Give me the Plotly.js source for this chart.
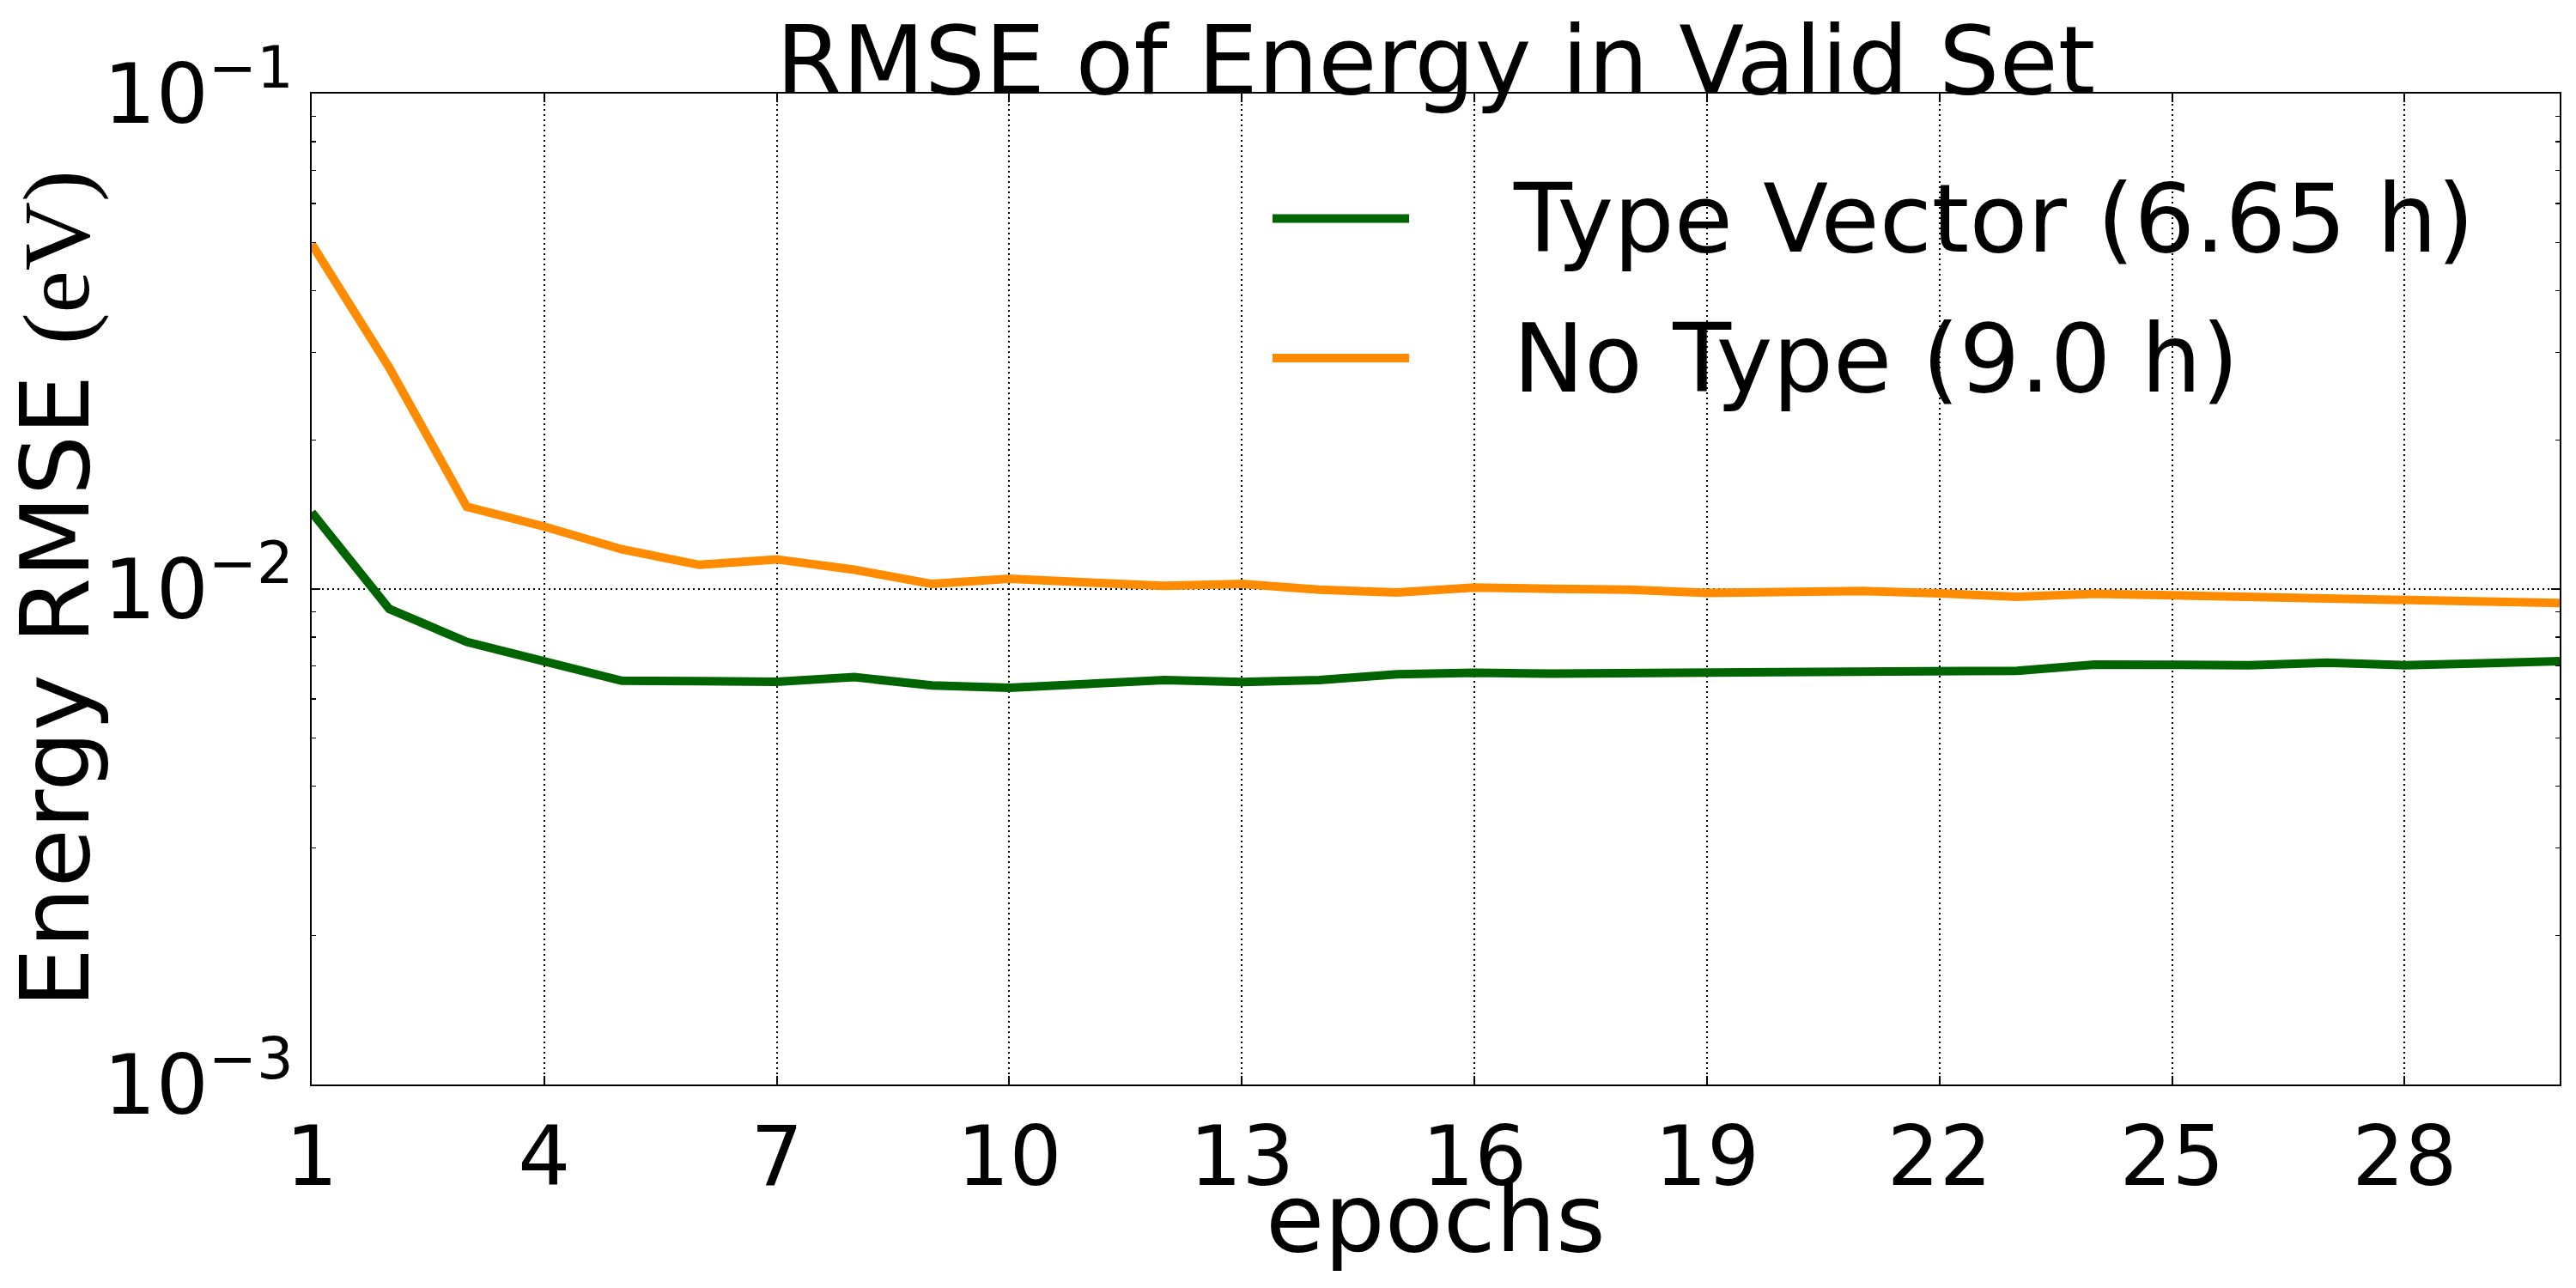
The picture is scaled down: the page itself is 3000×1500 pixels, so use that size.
<!DOCTYPE html>
<html>
<head>
<meta charset="utf-8">
<script src="https://cdn.plot.ly/plotly-3.0.1.min.js"></script>
<style>html,body{margin:0;padding:0;background:#fff;}</style>
</head>
<body>
<div id="chart" style="width:3000px;height:1500px;"></div>
<script>
const epochs = [1,2,3,4,5,6,7,8,9,10,11,12,13,14,15,16,17,18,19,20,21,22,23,24,25,26,27,28,29,30];
const typeVector = [0.01429,0.00912,0.00782,0.00713,0.00653,0.00652,0.00650,0.00664,0.00639,0.00632,
                    0.00645,0.00655,0.00649,0.00655,0.00673,0.00678,0.00675,0.00676,0.00675,0.00680,
                    0.00679,0.00682,0.00684,0.00704,0.00702,0.00702,0.00710,0.00702,0.00708,0.00715];
const noType = [0.0497,0.0280,0.01466,0.01337,0.01203,0.01119,0.01148,0.01094,0.01024,0.01049,
                0.01031,0.01015,0.01024,0.00997,0.00984,0.01007,0.01001,0.00997,0.00982,0.00991,
                0.00991,0.00980,0.00965,0.00978,0.00971,0.00967,0.00966,0.00952,0.00944,0.00937];
const seriesNames = ["Type Vector (6.65 h)", "No Type (9.0 h)"];
const seriesColors = ["#006400", "#FF8C00"];
const xTickVals = [1,4,7,10,13,16,19,22,25,28];
const yTickVals = [0.001, 0.01, 0.1];
const yTickText = ["10<sup>\u22123</sup>", "10<sup>\u22122</sup>", "10<sup>\u22121</sup>"];
const yMinorVals = [0.002,0.003,0.004,0.005,0.006,0.007,0.008,0.009,0.02,0.03,0.04,0.05,0.06,0.07,0.08,0.09];
const xTitle = "epochs";

const FONT = "DejaVu Sans";
const BIG = 111;
const LW = 10;
const traces = [
  {x: epochs, y: typeVector, name: seriesNames[0], type: "scatter", mode: "lines",
   line: {color: seriesColors[0], width: LW}},
  {x: epochs, y: noType, name: seriesNames[1], type: "scatter", mode: "lines",
   line: {color: seriesColors[1], width: LW}}
];

// legend drawn in the upper right of the plot area (paper coordinates)
const legendRowsY = [0.874, 0.733];
const legendSample = [0.4274, 0.4882];
const legendTextX = 0.5335;
const shapes = [];
const annotations = [];
seriesNames.forEach((nm, i) => {
  shapes.push({type: "line", xref: "paper", yref: "paper",
               x0: legendSample[0], x1: legendSample[1], y0: legendRowsY[i], y1: legendRowsY[i],
               line: {color: seriesColors[i], width: LW}});
  annotations.push({xref: "paper", yref: "paper", x: legendTextX, y: legendRowsY[i],
                    xanchor: "left", yanchor: "middle", showarrow: false, text: nm,
                    font: {family: FONT, size: BIG, color: "#000"}});
});
// x-axis title placed below the tick labels
annotations.push({xref: "paper", yref: "paper", x: 0.5, y: -0.192, xanchor: "center", yanchor: "bottom",
                  showarrow: false, text: xTitle, font: {family: FONT, size: BIG, color: "#000"}});

const layout = {
  width: 3000, height: 1500,
  margin: {l: 363, r: 19, t: 109, b: 237},
  paper_bgcolor: "#fff", plot_bgcolor: "#fff",
  font: {family: FONT, color: "#000", size: 96},
  showlegend: false,
  title: {text: "RMSE of Energy in Valid Set", font: {family: FONT, size: BIG, color: "#000"},
          x: 0.5, xref: "paper", y: 1, yref: "paper", yanchor: "bottom", pad: {b: 0}},
  xaxis: {
    range: [1, 30], tickmode: "array", tickvals: xTickVals,
    ticks: "inside", ticklen: 10, tickwidth: 2, tickcolor: "#000",
    showline: true, linecolor: "#000", linewidth: 2, mirror: "ticks",
    showgrid: true, gridcolor: "#000", gridwidth: 2, griddash: "2px,4px",
    zeroline: false, tickfont: {family: FONT, size: 96, color: "#000"}
  },
  yaxis: {
    type: "log", range: [-3, -1], tickmode: "array", tickvals: yTickVals, ticktext: yTickText,
    ticks: "inside", ticklen: 10, tickwidth: 2, tickcolor: "#000",
    minor: {ticks: "inside", ticklen: 5, tickwidth: 1.5, tickcolor: "#000", showgrid: false,
            tickvals: yMinorVals},
    showline: true, linecolor: "#000", linewidth: 2, mirror: "ticks",
    showgrid: true, gridcolor: "#000", gridwidth: 2, griddash: "2px,4px",
    zeroline: false, tickfont: {family: FONT, size: 96, color: "#000"},
    title: {text: "Energy RMSE <span style=\"font-family:'Liberation Serif'\">(eV)</span>",
            font: {family: FONT, size: BIG, color: "#000"}, standoff: 22}
  },
  shapes: shapes,
  annotations: annotations
};

Plotly.newPlot("chart", traces, layout, {displayModeBar: false, staticPlot: true});
</script>
</body>
</html>
